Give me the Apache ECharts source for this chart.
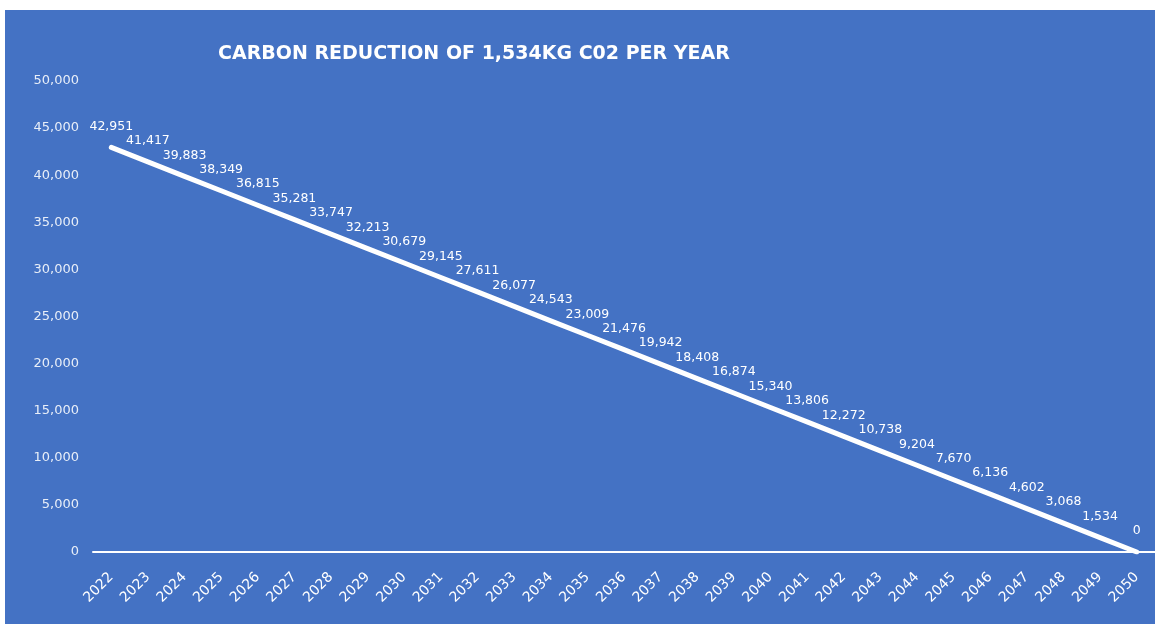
<!DOCTYPE html>
<html>
<head>
<meta charset="utf-8">
<script src="https://cdn.jsdelivr.net/npm/echarts@6/dist/echarts.min.js"></script>
<style>
  html, body { margin: 0; padding: 0; background: #fff; }
  #chart { position: absolute; left: 5px; top: 10px; width: 1150px; height: 614px; }
</style>
</head>
<body>
<div id="chart"></div>
<script>
// 年份
var years = ['2022','2023','2024','2025','2026','2027','2028','2029','2030','2031',
  '2032','2033','2034','2035','2036','2037','2038','2039','2040','2041',
  '2042','2043','2044','2045','2046','2047','2048','2049','2050'];
// 剩余碳排放 (kg)
var carbon = [42951, 41417, 39883, 38349, 36815, 35281, 33747, 32213, 30679, 29145,
  27611, 26077, 24543, 23009, 21476, 19942, 18408, 16874, 15340, 13806,
  12272, 10738, 9204, 7670, 6136, 4602, 3068, 1534, 0];
var yTicks = { min: 0, max: 50000, interval: 5000 };

var myChart = echarts.init(document.getElementById('chart'));
var option = {
  backgroundColor: '#4472C4',
  textStyle: { fontFamily: 'DejaVu Sans' },
  title: {
    text: 'CARBON REDUCTION OF 1,534KG C02 PER YEAR',
    left: 208,
    top: 30,
    textStyle: { color: '#fff', fontSize: 19, fontWeight: 'bold', fontFamily: 'DejaVu Sans' }
  },
  grid: { left: 88, right: -3, top: 71, bottom: 72 },
  xAxis: {
    type: 'category',
    data: years,
    axisLine: { lineStyle: { color: '#fff', width: 2 } },
    axisTick: { show: false },
    axisLabel: { color: '#fff', fontSize: 14, rotate: 45, margin: 23, interval: 0 }
  },
  yAxis: {
    type: 'value',
    min: yTicks.min,
    max: yTicks.max,
    interval: yTicks.interval,
    splitLine: { show: false },
    axisLine: { show: false },
    axisTick: { show: false },
    axisLabel: {
      color: '#e8eef8', fontSize: 13, margin: 14,
      formatter: function (v) { return v.toLocaleString('en-US'); }
    }
  },
  series: [{
    type: 'line',
    data: carbon,
    symbol: 'circle',
    symbolSize: 1,
    itemStyle: { color: '#fff' },
    lineStyle: { color: '#fff', width: 5, cap: 'round' },
    label: {
      show: true,
      position: 'top',
      distance: 14,
      color: '#fff',
      fontSize: 12.5,
      formatter: function (p) { return p.value.toLocaleString('en-US'); }
    }
  }]
};
myChart.setOption(option);
</script>
</body>
</html>
